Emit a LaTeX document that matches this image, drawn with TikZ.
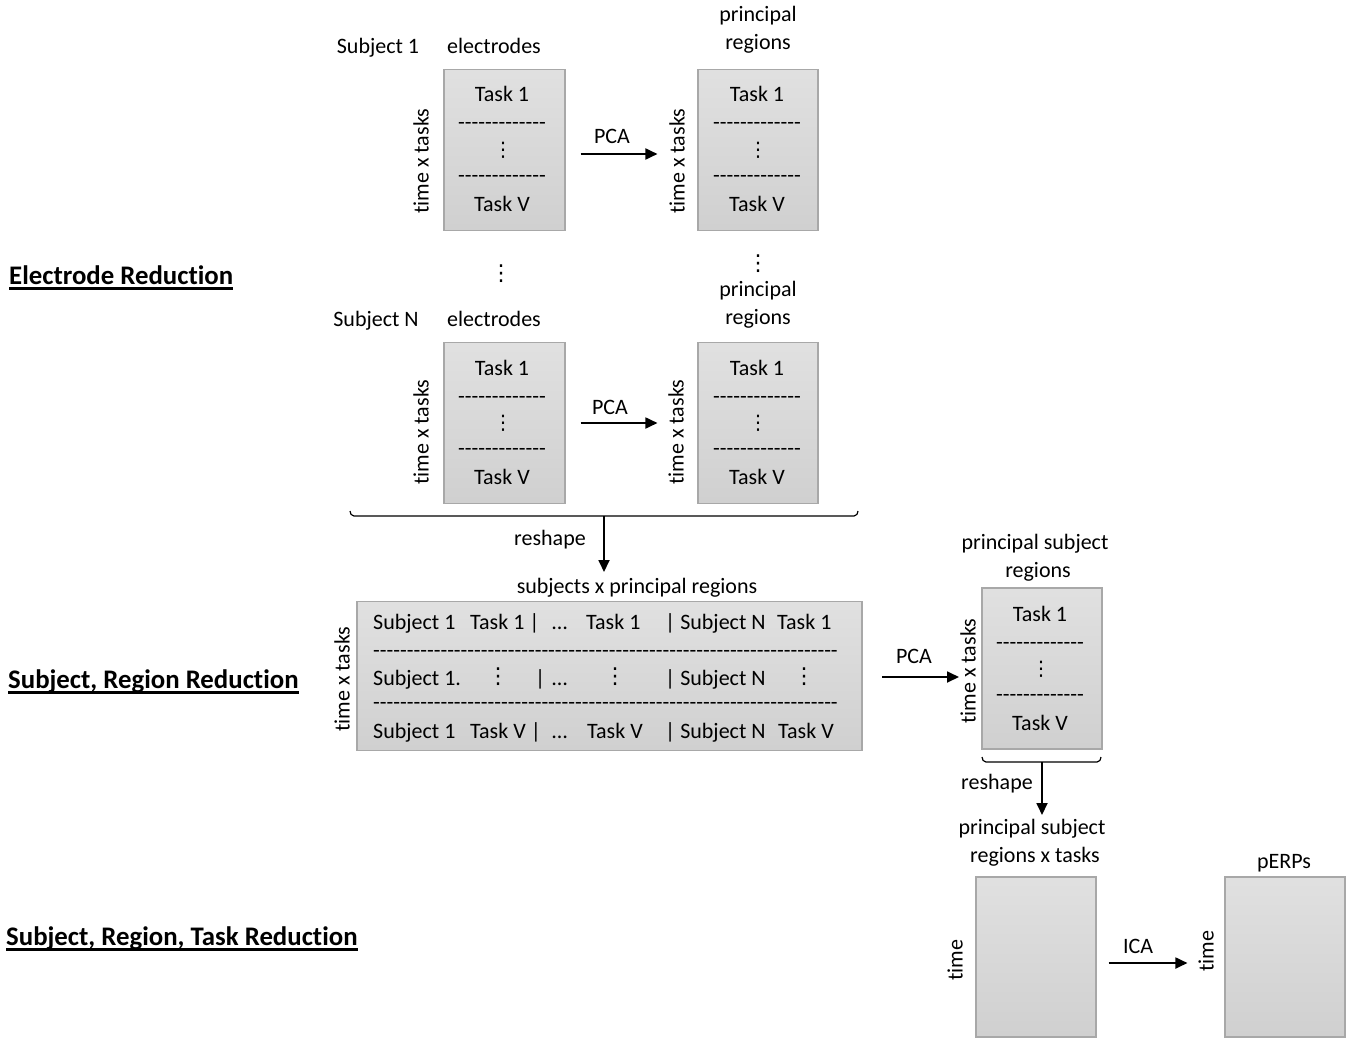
\documentclass[tikz,border=0pt]{standalone}
\usepackage{fontspec}
\setmainfont{Carlito}[Ligatures={TeXOff,NoCommon}]
\newfontfamily\dvs{DejaVu Sans}
\usetikzlibrary{arrows.meta}
\begin{document}
\begin{tikzpicture}[x=1pt,y=-1pt,
  box/.style={draw=gray!68, line width=1.1pt, top color=gray!24, bottom color=gray!37, inner sep=0},
  txt/.style={inner sep=0, anchor=base, font=\fontsize{22}{26}\selectfont},
  txtw/.style={txt, anchor=base west},
  vd/.style={inner sep=0, font=\dvs\fontsize{20}{22}\selectfont},
  vdb/.style={inner sep=0, font=\dvs\fontsize{22}{24}\selectfont},
  vlab/.style={inner sep=0, rotate=90, font=\fontsize{22}{26}\selectfont},
  head/.style={inner sep=0, anchor=base west, font=\bfseries\fontsize{26.8}{30}\selectfont},
  uline/.style={line width=2.4pt},
  arr/.style={-{Triangle[length=12pt,width=11pt]}, line width=1.8pt},
  brace/.style={line width=1.2pt}]
\useasboundingbox[fill=white] (0,0) rectangle (1351,1038);

\newcommand\tstack[3]{%
  \node[txt] (#1t1) at (#2,#3+33) {Task 1};
  \node[txt] (#1d1) at (#2,#3+61) {-------------};
  \node[vd]  (#1v)  at (#2+1,#3+81) {⋮};
  \node[txt] (#1d2) at (#2,#3+113) {-------------};
  \node[txt] (#1tv) at (#2,#3+142) {Task V};
}

% headings
\node[head] (h1) at (9,284) {Electrode Reduction};
\node[head] (h2) at (8,688) {Subject, Region Reduction};
\node[head] (h3) at (6,945) {Subject, Region, Task Reduction};
\draw[uline] ([yshift=-4.5pt]h1.base west) -- ([yshift=-4.5pt]h1.base east);
\draw[uline] ([yshift=-4.5pt]h2.base west) -- ([yshift=-4.5pt]h2.base east);
\draw[uline] ([yshift=-4.5pt]h3.base west) -- ([yshift=-4.5pt]h3.base east);

% ---- subject 1
\node[box, minimum width=121, minimum height=161] (b1) at (504.5,150) {};
\node[box, minimum width=120, minimum height=161] (b2) at (758,150) {};
\tstack{a}{502}{69}
\tstack{b}{757}{69}
\node[txt] (s1) at (378,54) {Subject 1};
\node[txt] (e1) at (494,54) {electrodes};
\node[txt] (pr1) at (758,22) {principal};
\node[txt] (rg1) at (758,50) {regions};
\node[vlab] (l1) at (421,161) {time x tasks};
\node[vlab] (l2) at (677,161) {time x tasks};
\node[txt] (pca1) at (612,143) {PCA};
\draw[arr] ([xshift=15pt,yshift=-4pt]b1.east) -- ([xshift=-40pt,yshift=-4pt]b2.west);

% dots between
\node[vdb] (mv1) at (501,274) {⋮};
\node[vdb] (mv2) at (758,264) {⋮};

% ---- subject N
\node[box, minimum width=121, minimum height=161] (b3) at (504.5,423) {};
\node[box, minimum width=120, minimum height=161] (b4) at (758,423) {};
\tstack{c}{502}{342}
\tstack{d}{757}{342}
\node[txt] (sN) at (376,326) {Subject N};
\node[txt] (e2) at (494,326) {electrodes};
\node[txt] (pr2) at (758,296) {principal};
\node[txt] (rg2) at (758,324) {regions};
\node[vlab] (l3) at (421,432) {time x tasks};
\node[vlab] (l4) at (676,432) {time x tasks};
\node[txt] (pca2) at (610,414) {PCA};
\draw[arr] ([xshift=15pt]b3.east) -- ([xshift=-40pt]b4.west);

% brace 1 and reshape
\draw[brace] (350,511) to[out=-90,in=180] (354,516) -- (854,516) to[out=0,in=-90] (858,511);
\coordinate (br1) at (604,516);
\coordinate (rs1) at (604,572);
\draw[arr] (br1) -- (rs1);
\node[txt] (resh1) at (550,545) {reshape};
\node[txt] (spr) at (637,593) {subjects x principal regions};

% ---- big box
\node[box, minimum width=505, minimum height=149] (big) at (609.5,676) {};
\node[vlab] (l5) at (342,679) {time x tasks};
\node[txtw] (r1a) at (373,629) {Subject 1};
\node[txtw] (r1b) at (470,629) {Task 1 |};
\node[txtw] (r1c) at (552,629) {…};
\node[txtw] (r1d) at (586,629) {Task 1};
\node[txtw] (r1e) at (665,629) {| Subject N};
\node[txtw] (r1f) at (777,629) {Task 1};
\node[txtw] (bd1) at (373,657) {---------------------------------------------------------------------};
\node[txtw] (r2a) at (373,685) {Subject 1.};
\node[vdb]  (r2b) at (498,677) {⋮};
\node[txtw] (r2c) at (535,685) {|};
\node[txtw] (r2d) at (552,685) {…};
\node[vdb]  (r2e) at (615,677) {⋮};
\node[txtw] (r2f) at (665,685) {| Subject N};
\node[vdb]  (r2g) at (804,677) {⋮};
\node[txtw] (bd2) at (373,709) {---------------------------------------------------------------------};
\node[txtw] (r3a) at (373,738) {Subject 1};
\node[txtw] (r3b) at (470,738) {Task V |};
\node[txtw] (r3c) at (552,738) {…};
\node[txtw] (r3d) at (587,738) {Task V};
\node[txtw] (r3e) at (665,738) {| Subject N};
\node[txtw] (r3f) at (778,738) {Task V};

% ---- principal subject regions
\node[box, minimum width=120, minimum height=161] (b5) at (1042,668.5) {};
\tstack{e}{1040}{588}
\node[txt] (psr1) at (1035,549) {principal subject};
\node[txt] (psr2) at (1038,577) {regions};
\node[vlab] (l6) at (968,671) {time x tasks};
\node[txt] (pca3) at (914,663) {PCA};
\coordinate (p3s) at (882,677);
\coordinate (p3e) at (959,677);
\draw[arr] (p3s) -- (p3e);

% brace 2 and reshape
\draw[brace] (982,757) to[out=-90,in=180] (986,762) -- (1097,762) to[out=0,in=-90] (1101,757);
\coordinate (br2) at (1042,762);
\coordinate (rs2) at (1042,815);
\draw[arr] (br2) -- (rs2);
\node[txt] (resh2) at (997,789) {reshape};
\node[txt] (psrt1) at (1032,834) {principal subject};
\node[txt] (psrt2) at (1035,862) {regions x tasks};

% ---- bottom boxes
\node[box, minimum width=120, minimum height=160] (b6) at (1036,957) {};
\node[box, minimum width=120, minimum height=160] (b7) at (1285,957) {};
\node[vlab] (l7) at (955,960) {time};
\node[vlab] (l8) at (1206,951) {time};
\node[txt] (perp) at (1284,868) {pERPs};
\node[txt] (ica) at (1138,953) {ICA};
\draw[arr] ([xshift=12pt,yshift=-6pt]b6.east) -- ([xshift=-37pt,yshift=-6pt]b7.west);
\end{tikzpicture}
\end{document}
